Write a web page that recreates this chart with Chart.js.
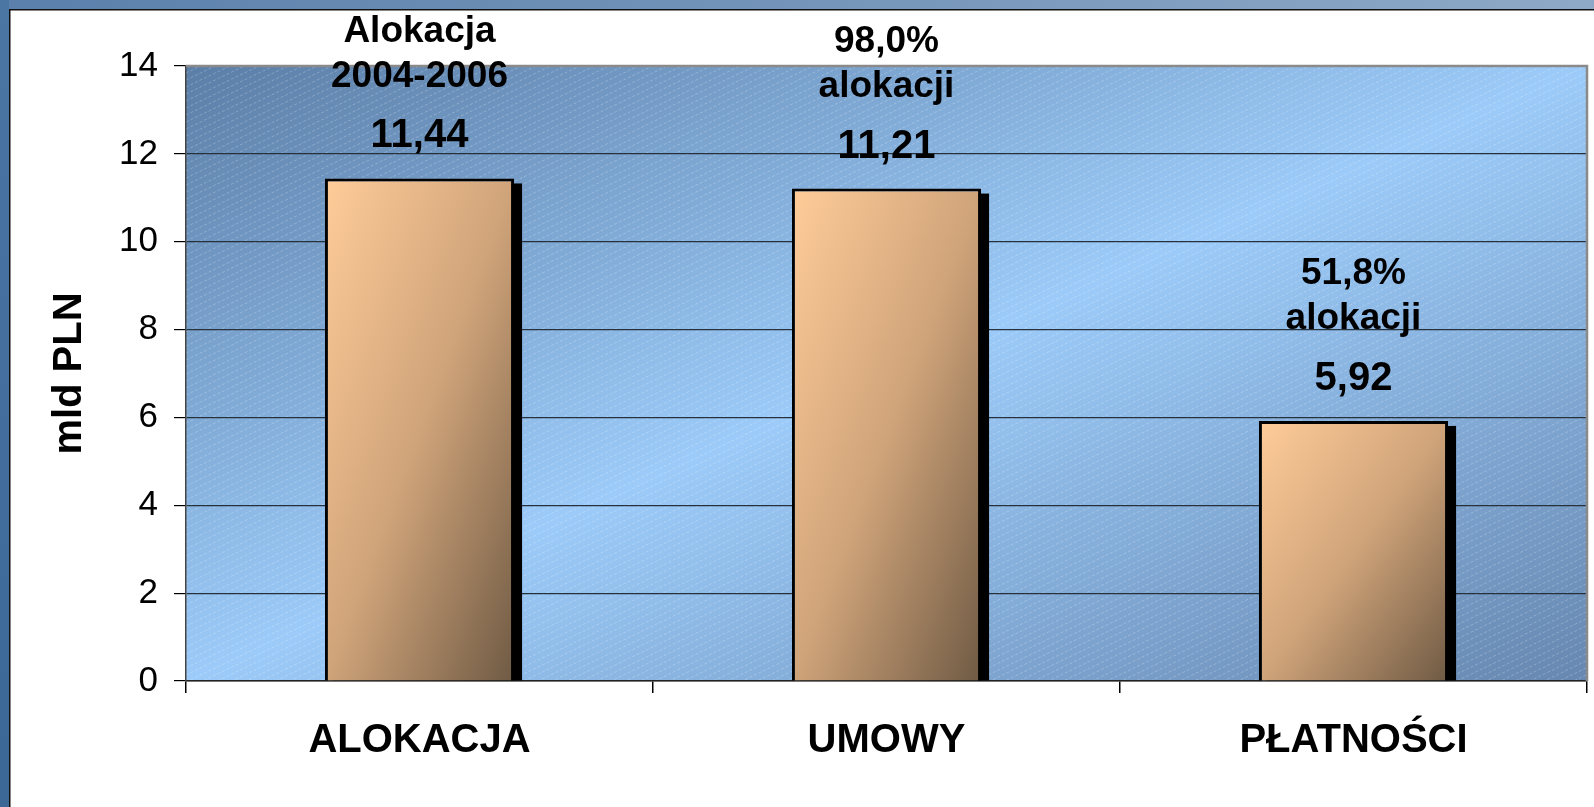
<!DOCTYPE html>
<html>
<head>
<meta charset="utf-8">
<script src="https://cdn.jsdelivr.net/npm/chart.js@4/dist/chart.umd.min.js"></script>
<style>
  html, body { margin: 0; padding: 0; background: #fff; }
  #wrap { width: 1594px; height: 807px; }
</style>
</head>
<body>
<div id="wrap"><canvas id="chart" width="1594" height="807"></canvas></div>
<script>
const categories = ['ALOKACJA', 'UMOWY', 'PŁATNOŚCI'];
const values = [11.44, 11.21, 5.92];
const valueLabels = ['11,44', '11,21', '5,92'];
const notes = [['Alokacja', '2004-2006'], ['98,0%', 'alokacji'], ['51,8%', 'alokacji']];
const yTicks = [0, 2, 4, 6, 8, 10, 12, 14];
const yTitle = 'mld PLN';

const FONT = "'Liberation Sans', Arial, sans-serif";

// gradient whose bands run along the anti-diagonal of a box (like Excel fills)
function diagGradient(ctx, x, y, w, h, stops) {
  const len = Math.sqrt(w * w + h * h) || 1;
  const ux = h / len, uy = w / len;
  const L = w * h / len;
  const cx = x + w / 2, cy = y + h / 2;
  const g = ctx.createLinearGradient(cx - ux * L, cy - uy * L, cx + ux * L, cy + uy * L);
  stops.forEach(s => g.addColorStop(s[0], s[1]));
  return g;
}

const background = {
  id: 'background',
  beforeDraw(chart) {
    const ctx = chart.ctx, w = chart.width, h = chart.height;
    ctx.save();
    ctx.fillStyle = '#fff';
    ctx.fillRect(0, 0, w, h);
    // outer blue frame
    let g = ctx.createLinearGradient(0, 0, w, 0);
    g.addColorStop(0, '#5a80ab');
    g.addColorStop(1, '#8ea9c7');
    ctx.fillStyle = g;
    ctx.fillRect(0, 0, w, 9);
    g = ctx.createLinearGradient(0, 0, 0, h);
    g.addColorStop(0, '#4b75a3');
    g.addColorStop(1, '#3b6797');
    ctx.fillStyle = g;
    ctx.fillRect(0, 0, 9, h);
    ctx.fillStyle = '#111';
    ctx.fillRect(9, 9, w - 9, 1.5);
    ctx.fillRect(9, 9, 1.5, h - 9);

    // plot area fill
    const a = chart.chartArea;
    const pw = a.right - a.left, ph = a.bottom - a.top;
    ctx.fillStyle = diagGradient(ctx, a.left, a.top, pw, ph,
      [[0, '#5b7ea7'], [0.5, '#9ccbf9'], [1, '#6687b0']]);
    ctx.fillRect(a.left, a.top, pw, ph);
    // light dashed hatching
    ctx.beginPath();
    ctx.rect(a.left, a.top, pw, ph);
    ctx.clip();
    ctx.strokeStyle = 'rgba(255,255,255,0.24)';
    ctx.lineWidth = 1;
    ctx.setLineDash([3, 2]);
    for (let y0 = a.top; y0 < a.bottom + pw * 0.48; y0 += 7) {
      ctx.beginPath();
      ctx.moveTo(a.left, y0);
      ctx.lineTo(a.right, y0 - pw * 0.48);
      ctx.stroke();
    }
    ctx.restore();
  },
  beforeDatasetsDraw(chart) {
    const ctx = chart.ctx, a = chart.chartArea;
    ctx.save();
    // gray frame on top and right of the plot
    ctx.strokeStyle = '#8a8a8a';
    ctx.lineWidth = 2.5;
    ctx.beginPath();
    ctx.moveTo(a.left, a.top);
    ctx.lineTo(a.right, a.top);
    ctx.lineTo(a.right, a.bottom);
    ctx.stroke();
    // bar shadows
    ctx.fillStyle = '#000';
    chart.getDatasetMeta(0).data.forEach(bar => {
      const p = bar.getProps(['x', 'y', 'base', 'width'], true);
      ctx.fillRect(p.x - p.width / 2 + 8, p.y + 5, p.width, p.base - p.y - 5);
    });
    ctx.restore();
  },
  afterDatasetsDraw(chart) {
    const ctx = chart.ctx;
    ctx.save();
    ctx.fillStyle = '#000';
    ctx.textAlign = 'center';
    ctx.textBaseline = 'middle';
    chart.getDatasetMeta(0).data.forEach((bar, i) => {
      const p = bar.getProps(['x', 'y'], true);
      let cy = p.y - 42;
      ctx.font = 'bold 40px ' + FONT;
      ctx.fillText(valueLabels[i], p.x, cy);
      ctx.font = 'bold 37px ' + FONT;
      cy -= 60;
      for (let k = notes[i].length - 1; k >= 0; k--) {
        ctx.fillText(notes[i][k], p.x, cy);
        cy -= 45;
      }
    });
    ctx.restore();
  }
};

new Chart(document.getElementById('chart'), {
  type: 'bar',
  data: {
    labels: categories,
    datasets: [{
      data: values,
      backgroundColor: c => {
        const chart = c.chart;
        if (!chart.chartArea || c.dataIndex === undefined) return '#e8b888';
        const xs = chart.scales.x, ys = chart.scales.y;
        const step = xs.getPixelForValue(1) - xs.getPixelForValue(0);
        const w = step * 0.405;
        const x = xs.getPixelForValue(c.dataIndex) - w / 2;
        const top = ys.getPixelForValue(values[c.dataIndex]);
        const base = ys.getPixelForValue(0);
        return diagGradient(chart.ctx, x, top, w, base - top,
          [[0, '#ffcc99'], [0.5, '#d0a47a'], [1, '#6f5a44']]);
      },
      borderColor: '#000',
      borderWidth: 3,
      categoryPercentage: 1,
      barPercentage: 0.405
    }]
  },
  options: {
    responsive: false,
    devicePixelRatio: 1,
    animation: false,
    layout: { padding: { left: 0, right: 7, top: 66, bottom: 0 } },
    plugins: { legend: { display: false }, tooltip: { enabled: false } },
    scales: {
      x: {
        ticks: { color: '#000', font: { family: FONT, size: 40, weight: 'bold' }, padding: 24, maxRotation: 0, autoSkip: false },
        grid: { offset: true, drawOnChartArea: false, tickLength: 12, color: '#000', lineWidth: 1.5 },
        border: { color: '#222', width: 1.5 },
        afterFit: s => { s.height = 126; }
      },
      y: {
        min: 0,
        max: 14,
        afterBuildTicks: s => { s.ticks = yTicks.map(v => ({ value: v })); },
        ticks: { color: '#000', font: { family: FONT, size: 35 }, padding: 16 },
        grid: { color: '#25313d', lineWidth: 1.2, tickLength: 12, tickColor: '#000' },
        border: { color: '#444', width: 1.5 },
        title: { display: true, text: yTitle, color: '#000', font: { family: FONT, size: 40, weight: 'bold' }, padding: { top: 46, bottom: 0 } },
        afterFit: s => { s.width = 186; }
      }
    }
  },
  plugins: [background]
});
</script>
</body>
</html>
